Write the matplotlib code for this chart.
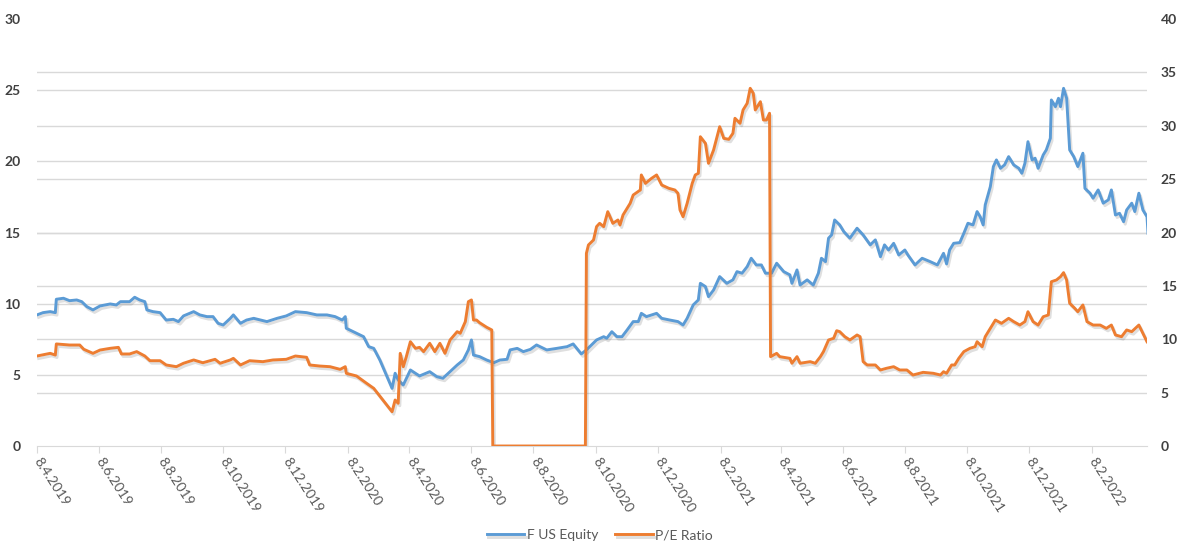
import numpy as np
import pandas as pd
import matplotlib
matplotlib.use('Agg')
import matplotlib.pyplot as plt
import matplotlib.dates as mdates
import matplotlib.ticker as mticker
import matplotlib.patheffects as pe_fx

plt.rcParams['font.family'] = ['Lato', 'DejaVu Sans']

start = pd.Timestamp('2019-04-08')

# F US Equity price (left axis), days counted from 8.4.2019
eq_days = [0, 6, 13, 18, 19, 26, 32, 39, 44, 49,
           55, 62, 72, 78, 82, 91, 96, 101, 106, 108,
           114, 121, 127, 134, 139, 144, 154, 160, 167, 173,
           178, 183, 190, 193, 200, 206, 213, 226, 236, 245,
           254, 265, 275, 285, 293, 300, 303, 304, 311, 321,
           326, 331, 337, 344, 349, 352, 355, 360, 367, 372,
           376, 386, 393, 399, 406, 413, 419, 424, 427, 429,
           435, 442, 449, 455, 462, 465, 472, 478, 485, 491,
           501, 511, 521, 527, 535, 540, 550, 557, 560, 565,
           570, 575, 580, 586, 591, 594, 599, 609, 614, 622,
           630, 635, 639, 645, 650, 652, 657, 660, 665, 671,
           678, 684, 688, 693, 698, 702, 707, 712, 716, 722,
           727, 734, 740, 742, 747, 750, 757, 763, 768, 771,
           775, 778, 781, 784, 789, 793, 799, 806, 812, 819,
           824, 829, 833, 837, 842, 847, 853, 856, 863, 870,
           878, 885, 891, 894, 897, 901, 907, 911, 915, 920,
           924, 927, 930, 932, 937, 940, 943, 947, 951, 955,
           960, 965, 968, 971, 974, 978, 981, 984, 989, 992,
           996, 997, 1001, 1004, 1006, 1009, 1012, 1015, 1019, 1023,
           1028, 1030, 1035, 1038, 1043, 1048, 1053, 1056, 1060, 1064,
           1068, 1071, 1076, 1079, 1083, 1087, 1091, 1092]
eq_vals = [9.21, 9.37, 9.44, 9.37, 10.31, 10.38, 10.21, 10.26, 10.14, 9.79,
           9.56, 9.84, 9.98, 9.91, 10.14, 10.14, 10.45, 10.26, 10.14, 9.56,
           9.44, 9.37, 8.85, 8.9, 8.74, 9.14, 9.44, 9.21, 9.09, 9.09,
           8.62, 8.5, 8.97, 9.21, 8.62, 8.85, 8.97, 8.74, 8.97, 9.14,
           9.44, 9.37, 9.21, 9.21, 9.09, 8.85, 9.09, 8.27, 8.03, 7.68,
           6.98, 6.86, 6.04, 4.87, 4.05, 5.11, 4.64, 4.29, 5.34, 5.11,
           4.92, 5.22, 4.87, 4.76, 5.22, 5.69, 6.04, 6.75, 7.45, 6.39,
           6.28, 6.04, 5.85, 6.04, 6.09, 6.75, 6.86, 6.63, 6.79, 7.1,
           6.75, 6.86, 6.98, 7.17, 6.47, 6.75, 7.45, 7.68, 7.57, 8.03,
           7.68, 7.68, 8.15, 8.74, 8.74, 9.32, 9.09, 9.32, 8.97, 8.85,
           8.74, 8.5, 8.97, 9.91, 10.26, 11.43, 11.2, 10.49, 10.96, 11.9,
           11.43, 11.67, 12.25, 12.14, 12.6, 13.19, 12.72, 12.72, 12.14, 12.14,
           12.84, 12.25, 12.02, 11.43, 12.37, 11.31, 11.67, 11.31, 12.14, 13.19,
           12.95, 14.6, 14.83, 15.88, 15.53, 15.06, 14.6, 15.3, 14.83, 14.13,
           14.48, 13.3, 14.13, 13.77, 14.24, 13.42, 13.77, 13.42, 12.72, 13.19,
           12.95, 12.72, 13.54, 12.79, 13.77, 14.24, 14.29, 14.95, 15.65, 15.53,
           16.47, 16.11, 15.53, 16.94, 18.22, 19.63, 20.1, 19.51, 19.75, 20.33,
           19.75, 19.51, 19.16, 19.86, 21.38, 20.1, 20.22, 19.51, 20.45, 20.8,
           21.62, 24.31, 23.84, 24.43, 23.84, 25.13, 24.43, 20.8, 20.33, 19.63,
           20.57, 18.1, 17.76, 17.41, 17.99, 17.06, 17.29, 17.99, 16.23, 16.35,
           15.76, 16.58, 17.06, 16.47, 17.76, 16.58, 16.11, 14.95]

# P/E ratio (right axis)
pe_days = [0, 13, 18, 19, 32, 42, 46, 55, 62, 72,
           80, 83, 91, 98, 106, 111, 121, 127, 137, 144,
           154, 163, 175, 180, 190, 193, 200, 209, 222, 232,
           245, 254, 265, 268, 278, 288, 298, 303, 304, 314,
           324, 331, 340, 349, 352, 355, 357, 360, 363, 367,
           372, 376, 380, 386, 391, 396, 401, 406, 413, 416,
           421, 424, 427, 429, 432, 435, 442, 447, 448, 539,
           540, 542, 547, 550, 553, 557, 561, 566, 571, 573,
           576, 583, 586, 593, 594, 598, 604, 609, 614, 621,
           627, 630, 632, 635, 639, 644, 647, 650, 652, 657,
           660, 665, 668, 671, 675, 680, 684, 686, 691, 694,
           698, 701, 704, 706, 711, 714, 717, 720, 721, 727,
           730, 740, 742, 747, 750, 760, 765, 770, 773, 778,
           783, 786, 789, 794, 799, 806, 809, 812, 816, 824,
           829, 835, 842, 848, 855, 861, 871, 881, 888, 891,
           894, 899, 902, 906, 911, 917, 922, 924, 929, 932,
           937, 942, 948, 955, 960, 966, 971, 974, 979, 984,
           989, 994, 997, 1002, 1006, 1009, 1012, 1015, 1020, 1023,
           1028, 1032, 1038, 1045, 1051, 1056, 1060, 1066, 1071, 1076,
           1083, 1087, 1091]
pe_vals = [8.43, 8.68, 8.52, 9.56, 9.46, 9.46, 9.06, 8.68, 8.99, 9.15,
           9.24, 8.62, 8.62, 8.84, 8.43, 7.99, 7.99, 7.59, 7.43, 7.75,
           8.06, 7.8, 8.12, 7.75, 8.06, 8.21, 7.59, 7.99, 7.9, 8.06,
           8.12, 8.43, 8.31, 7.59, 7.49, 7.43, 7.18, 7.43, 6.81, 6.56,
           5.87, 5.4, 4.31, 3.21, 4.31, 4.0, 8.68, 7.43, 8.37, 9.77,
           9.15, 9.24, 8.84, 9.62, 8.84, 9.62, 8.68, 9.93, 10.71, 10.56,
           11.65, 13.52, 13.68, 11.8, 11.8, 11.55, 11.12, 10.87, 0, 0,
           18.05, 18.83, 19.3, 20.55, 20.86, 20.55, 21.95, 20.86, 21.17, 20.7,
           21.64, 22.73, 23.51, 23.98, 25.39, 24.6, 25.07, 25.39, 24.45, 24.14,
           23.98, 23.67, 22.11, 21.48, 22.73, 24.6, 25.39, 25.54, 28.97, 28.35,
           26.48, 27.73, 28.82, 29.91, 28.82, 28.73, 29.29, 30.7, 30.23, 31.48,
           32.1, 33.51, 33.04, 31.48, 32.25, 30.54, 30.54, 31.17, 8.37, 8.68,
           8.37, 8.21, 7.75, 8.37, 7.75, 7.9, 7.75, 8.37, 8.84, 9.93,
           10.09, 10.8, 10.71, 10.24, 9.93, 10.4, 10.24, 7.9, 7.59, 7.59,
           7.12, 7.28, 7.43, 7.12, 7.12, 6.65, 6.9, 6.81, 6.65, 6.96,
           6.81, 7.59, 7.59, 8.21, 8.84, 9.15, 9.3, 9.77, 9.3, 10.24,
           11.02, 11.8, 11.49, 11.96, 11.65, 11.33, 11.65, 12.58, 11.65, 11.33,
           12.11, 12.27, 15.39, 15.55, 15.86, 16.24, 15.55, 13.37, 12.9, 12.58,
           13.21, 11.65, 11.33, 11.33, 11.02, 11.33, 10.4, 10.24, 10.87, 10.71,
           11.33, 10.55, 9.77]

left_ticks = [0, 5, 10, 15, 20, 25, 30]
right_ticks = [0, 5, 10, 15, 20, 25, 30, 35, 40]

eq_dates = start + pd.to_timedelta(eq_days, unit='D')
pe_dates = start + pd.to_timedelta(pe_days, unit='D')

blue = '#5B9BD5'
orange = '#ED7D31'
grid_c = '#D9D9D9'

fig = plt.figure(figsize=(11.9, 5.46), dpi=100)
ax1 = fig.add_axes([37 / 1190, 1 - 446 / 546, (1147 - 37) / 1190, (446 - 19) / 546])
ax2 = ax1.twinx()

shadow = [pe_fx.SimpleLineShadow(offset=(1.2, -1.8), shadow_color='#808080', alpha=0.25),
          pe_fx.Normal()]

l1, = ax1.plot(eq_dates, eq_vals, color=blue, lw=2.1, label='F US Equity',
               path_effects=shadow, zorder=3)
l2, = ax2.plot(pe_dates, pe_vals, color=orange, lw=2.1, label='P/E Ratio',
               path_effects=shadow, zorder=3)

ax1.set_ylim(0, 30)
ax2.set_ylim(0, 40)
ax1.set_yticks(left_ticks)
ax2.set_yticks(right_ticks)

# horizontal gridlines of both axes (drawn under the lines)
for v in left_ticks[1:-1]:
    ax1.axhline(v, color=grid_c, lw=1, zorder=1)
for v in right_ticks[1:-1]:
    ax1.axhline(v * 30 / 40, color=grid_c, lw=1, zorder=1)

ax1.set_xlim(start, start + pd.Timedelta(days=1091))
ax1.xaxis.set_major_locator(mdates.MonthLocator(bymonth=[2, 4, 6, 8, 10, 12], bymonthday=8))
ax1.xaxis.set_major_formatter(mticker.FuncFormatter(
    lambda x, pos: '{d.day}.{d.month}.{d.year}'.format(d=mdates.num2date(x))))

for sp in ['top', 'left', 'right']:
    ax1.spines[sp].set_visible(False)
    ax2.spines[sp].set_visible(False)
ax1.spines['bottom'].set_color(grid_c)
ax2.spines['bottom'].set_visible(False)

ax1.tick_params(axis='x', length=5, color=grid_c, pad=4, labelsize=10, labelcolor='#595959')
for lab in ax1.get_xticklabels():
    lab.set_rotation(-57)
    lab.set_ha('left')
    lab.set_va('center')
    lab.set_rotation_mode('anchor')

ax1.tick_params(axis='y', length=0, pad=12, labelsize=10, labelcolor='#404040')
ax2.tick_params(axis='y', length=0, pad=10, labelsize=10, labelcolor='#404040')
for lab in ax1.get_yticklabels() + ax2.get_yticklabels():
    lab.set_fontweight('bold')

fig.legend(handles=[l1, l2], loc='center', bbox_to_anchor=(600 / 1190, 1 - 535 / 546),
           ncol=2, frameon=False, fontsize=10, labelcolor='#595959',
           handlelength=2.7, handletextpad=0.2, columnspacing=1.2)

fig.savefig('out.png', dpi=100)
